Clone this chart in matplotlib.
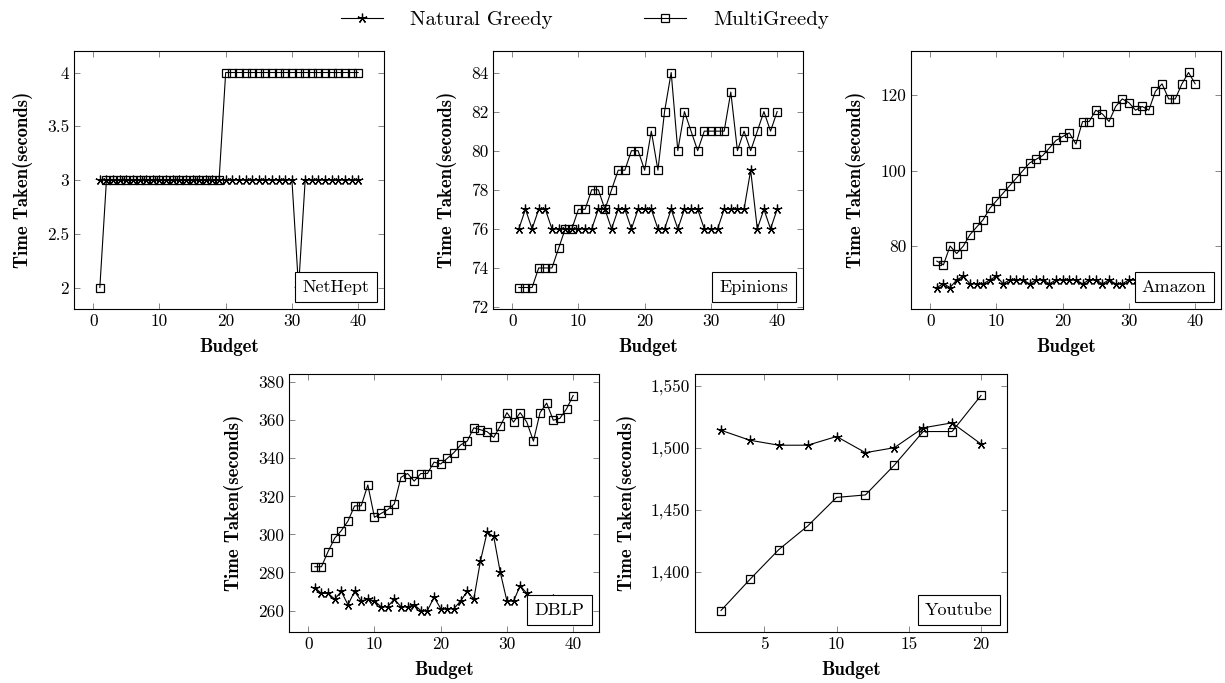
import matplotlib
matplotlib.use("Agg")
import matplotlib.pyplot as plt
from matplotlib.ticker import FixedLocator, FuncFormatter
from matplotlib.offsetbox import AnchoredText

# ---- data ----
budget40 = list(range(1, 41))
budget_yt = [2, 4, 6, 8, 10, 12, 14, 16, 18, 20]

nethept_natural = [3] * 30 + [2] + [3] * 9
nethept_multi = [2] + [3] * 18 + [4] * 21

epinions_natural = [76, 77, 76, 77, 77, 76, 76, 76, 76, 76,
                    76, 76, 77, 77, 76, 77, 77, 76, 77, 77,
                    77, 76, 76, 77, 76, 77, 77, 77, 76, 76,
                    76, 77, 77, 77, 77, 79, 76, 77, 76, 77]
epinions_multi = [73, 73, 73, 74, 74, 74, 75, 76, 76, 77,
                  77, 78, 78, 77, 78, 79, 79, 80, 80, 79,
                  81, 79, 82, 84, 80, 82, 81, 80, 81, 81,
                  81, 81, 83, 80, 81, 80, 81, 82, 81, 82]

amazon_natural = [69, 70, 69, 71, 72, 70, 70, 70, 71, 72,
                  70, 71, 71, 71, 70, 71, 71, 70, 71, 71,
                  71, 71, 70, 71, 71, 70, 71, 70, 70, 71,
                  71, 70, 71, 71, 70, 71, 71, 70, 71, 71]
amazon_multi = [76, 75, 80, 78, 80, 83, 85, 87, 90, 92,
                94, 96, 98, 100, 102, 103, 104, 106, 108, 109,
                110, 107, 113, 113, 116, 115, 113, 117, 119, 118,
                116, 117, 116, 121, 123, 119, 119, 123, 126, 123]

dblp_natural = [272, 269, 269, 266, 270, 263, 270, 265, 266, 265,
                262, 262, 266, 262, 262, 263, 260, 260, 267, 261,
                261, 261, 265, 270, 266, 286, 301, 299, 280, 265,
                265, 273, 269, 264, 263, 262, 266, 263, 262, 264]
dblp_multi = [283, 283, 291, 298, 302, 307, 315, 315, 326, 309,
              311, 313, 316, 330, 332, 328, 332, 332, 338, 337,
              340, 343, 347, 349, 356, 355, 354, 351, 357, 364,
              359, 364, 359, 349, 364, 369, 360, 361, 366, 373]

youtube_natural = [1514, 1506, 1502, 1502, 1509, 1496, 1500, 1516, 1520, 1503]
youtube_multi = [1369, 1394, 1418, 1437, 1460, 1462, 1486, 1513, 1513, 1542]

xticks40 = [0, 10, 20, 30, 40]
xticks_yt = [5, 10, 15, 20]

panels = [
    ("NetHept", budget40, nethept_natural, nethept_multi, xticks40, [2, 2.5, 3, 3.5, 4]),
    ("Epinions", budget40, epinions_natural, epinions_multi, xticks40, [72, 74, 76, 78, 80, 82, 84]),
    ("Amazon", budget40, amazon_natural, amazon_multi, xticks40, [80, 100, 120]),
    ("DBLP", budget40, dblp_natural, dblp_multi, xticks40, [260, 280, 300, 320, 340, 360, 380]),
    ("Youtube", budget_yt, youtube_natural, youtube_multi, xticks_yt, [1400, 1450, 1500, 1550]),
]

# axes boxes in pixels: left, top, right, bottom
W, H = 1225, 683
boxes = [
    (74, 51, 384, 309),
    (493, 51, 803, 309),
    (911, 51, 1221, 309),
    (289, 374, 599, 632),
    (695, 374, 1007, 632),
]

RM = "cmr10"
BF = "cmb10"

fig = plt.figure(figsize=(W / 100, H / 100), dpi=100)

star = (5, 2, 0)
line_kw = dict(color="black", lw=0.8)


def fmt(v, pos):
    if abs(v - round(v)) < 1e-9:
        return "{:,}".format(int(round(v)))
    return "{:g}".format(v)


handles = None
for (name, x, nat, mul, xt, yt), (l, t, r, b) in zip(panels, boxes):
    ax = fig.add_axes([l / W, 1 - b / H, (r - l) / W, (b - t) / H])
    h1, = ax.plot(x, nat, marker=star, ms=7, mew=0.9, mec="black", **line_kw)
    h2, = ax.plot(x, mul, marker="s", ms=5.5, mfc="none", mew=0.9, mec="black", **line_kw)
    handles = (h1, h2)
    ax.margins(0.1)
    ax.xaxis.set_major_locator(FixedLocator(xt))
    ax.yaxis.set_major_locator(FixedLocator(yt))
    ax.xaxis.set_major_formatter(FuncFormatter(fmt))
    ax.yaxis.set_major_formatter(FuncFormatter(fmt))
    ax.tick_params(direction="in", top=True, right=True, length=4, width=0.6,
                   color="0.45", labelsize=12.5, pad=3.5)
    for lab in ax.get_xticklabels() + ax.get_yticklabels():
        lab.set_family(RM)
    for s in ax.spines.values():
        s.set_linewidth(0.8)
    ax.set_xlabel("Budget", family=BF, fontsize=13.5, labelpad=6)
    ax.set_ylabel("Time Taken(seconds)", family=BF, fontsize=13.5, labelpad=10)
    at = AnchoredText(name, loc="lower right", pad=0.4, borderpad=0.4,
                      prop=dict(family=RM, size=13), frameon=True)
    at.patch.set_boxstyle("square,pad=0")
    at.patch.set_linewidth(0.8)
    at.patch.set_facecolor("white")
    ax.add_artist(at)

fig.legend(handles, ["Natural Greedy", "MultiGreedy"], loc="upper center",
           bbox_to_anchor=(585 / W, 1.0), ncol=2, frameon=False,
           prop=dict(family=RM, size=15), handlelength=2.0,
           handletextpad=1.3, columnspacing=4.4, borderaxespad=0.1)

fig.savefig("out.png", dpi=100)
